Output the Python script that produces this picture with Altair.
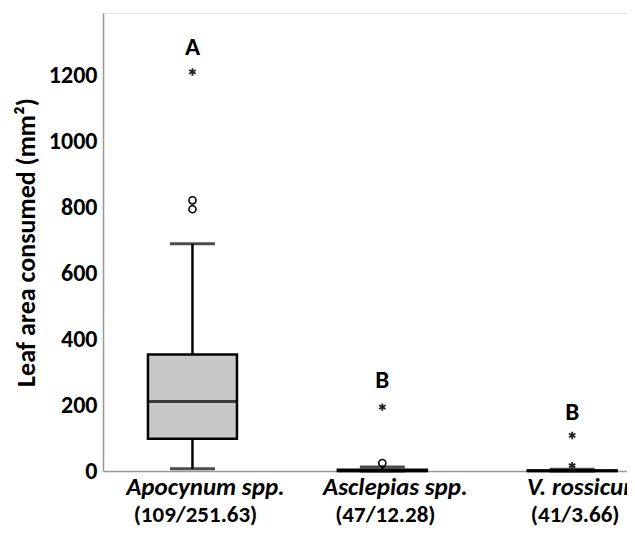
import altair as alt
import pandas as pd

groups = ["Apocynum spp.", "Asclepias spp.", "V. rossicum"]
n_mean = ["(109/251.63)", "(47/12.28)", "(41/3.66)"]
whisker_low = [7, 0, 0]
q1 = [98, 0, 0]
median = [211, 1, 0.5]
q3 = [354, 4, 1.5]
whisker_high = [690, 12, 5]
letters = ["A", "B", "B"]
letter_y = [1287, 275, 179]

outlier_group = ["Apocynum spp.", "Apocynum spp.", "Asclepias spp."]
outlier_value = [795, 822, 24]
extreme_group = ["Apocynum spp.", "Asclepias spp.", "V. rossicum", "V. rossicum"]
extreme_value = [1212, 194, 108, 16]

FONT = "Carlito, Lato"

stats = pd.DataFrame({
    "group": groups, "label": n_mean, "lo": whisker_low, "q1": q1,
    "med": median, "q3": q3, "hi": whisker_high,
    "letter": letters, "ly": letter_y,
})
outl = pd.DataFrame({"group": outlier_group, "v": outlier_value})
extr = pd.DataFrame({"group": extreme_group, "v": extreme_value})

xscale = alt.Scale(type="point", domain=groups, padding=0.38, align=0.62)
yscale = alt.Scale(domain=[0, 1391], nice=False, zero=True)

x = alt.X("group:N", scale=xscale,
          axis=alt.Axis(labels=False, ticks=False, title=None, domainColor="#999999",
                        domainWidth=1.5, grid=False))
y_axis = alt.Axis(values=[0, 200, 400, 600, 800, 1000, 1200], format="d", grid=False,
                  ticks=False, labelPadding=6, labelFont=FONT, labelFontSize=24,
                  labelFontWeight="bold", labelColor="black", domainColor="#999999",
                  domainWidth=1.5, title="Leaf area consumed (mm²)", titleFont=FONT,
                  titleFontSize=26, titleFontWeight="bold", titleColor="black",
                  titlePadding=9)

base = alt.Chart(stats)

whisk_lo = base.mark_rule(color="black", strokeWidth=2.5).encode(
    x=x, y=alt.Y("lo:Q", scale=yscale, axis=y_axis), y2="q1:Q")
whisk_hi = base.mark_rule(color="black", strokeWidth=2.5).encode(
    x=x, y=alt.Y("q3:Q", scale=yscale), y2="hi:Q")
box = base.mark_bar(size=89, fill="#c8c8c8", stroke="black", strokeWidth=2.5).encode(
    x=x, y=alt.Y("q1:Q", scale=yscale), y2="q3:Q")
med = base.mark_tick(size=89, thickness=3, color="black").encode(
    x=x, y=alt.Y("med:Q", scale=yscale))
cap_lo = base.mark_tick(size=45, thickness=3, color="black").encode(
    x=x, y=alt.Y("lo:Q", scale=yscale))
cap_hi = base.mark_tick(size=45, thickness=3, color="black").encode(
    x=x, y=alt.Y("hi:Q", scale=yscale))

circles = alt.Chart(outl).mark_point(shape="circle", filled=False, color="black",
                                     size=50, strokeWidth=1.6, opacity=1).encode(
    x=x, y=alt.Y("v:Q", scale=yscale))
stars = alt.Chart(extr).mark_point(
    shape="M0,-1L0,1M-0.87,-0.5L0.87,0.5M-0.87,0.5L0.87,-0.5",
    filled=False, color="#222222", size=55, strokeWidth=1.8, opacity=1).encode(
    x=x, y=alt.Y("v:Q", scale=yscale))

letter_txt = base.mark_text(font=FONT, fontSize=25, fontWeight="bold", color="black",
                            baseline="middle").encode(
    x=x, y=alt.Y("ly:Q", scale=yscale), text="letter:N")

name_txt = base.mark_text(font=FONT, fontSize=25, fontWeight="bold", fontStyle="italic",
                          color="black", baseline="alphabetic", dx=13).encode(
    x=x, y=alt.value(482), text="group:N")
n_txt = base.mark_text(font=FONT, fontSize=23, fontWeight="bold",
                       color="black", baseline="alphabetic", dx=3).encode(
    x=x, y=alt.value(509), text="label:N")

chart = alt.layer(whisk_lo, whisk_hi, box, med, cap_lo, cap_hi, circles, stars,
                  letter_txt, name_txt, n_txt).properties(
    width=524, height=458,
    autosize=alt.AutoSizeParams(type="none"),
    padding={"left": 95, "top": 5, "right": 0, "bottom": 57},
).configure_view(stroke=None).configure(background="white")

chart.save("out.html", embed_options={"renderer": "svg", "actions": False})
